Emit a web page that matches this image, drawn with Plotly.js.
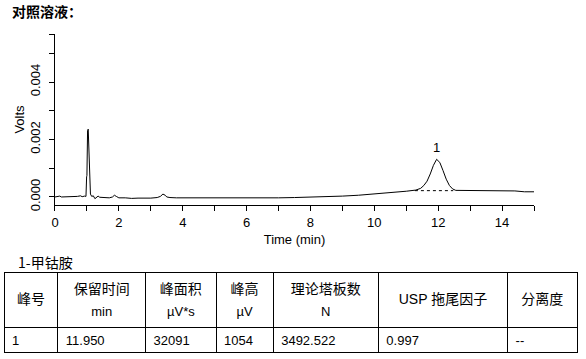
<!DOCTYPE html>
<html>
<head>
<meta charset="utf-8">
<script src="https://cdn.plot.ly/plotly-3.0.1.min.js"></script>
<style>html,body{margin:0;padding:0;background:#fff;}#chart{width:586px;height:359px;}</style>
</head>
<body>
<div id="chart"></div>
<script>
// Chromatogram trace (time in min, signal in volts)
const timeMin = [0.00,0.10,0.15,0.20,0.60,0.70,0.80,0.85,0.93,0.97,0.99,1.00,1.02,1.03,1.04,1.06,1.08,1.11,1.15,1.20,1.25,1.30,1.35,1.40,1.50,1.60,1.70,1.80,1.86,1.92,2.00,2.20,2.40,2.60,2.80,3.00,3.20,3.30,3.38,3.45,3.50,3.60,3.80,4.00,4.50,5.00,5.50,6.00,6.50,7.00,7.50,8.00,8.50,9.00,9.50,10.00,10.50,11.00,11.30,11.45,11.55,11.65,11.75,11.85,11.95,12.05,12.15,12.25,12.35,12.45,12.55,12.80,13.20,13.60,14.00,14.40,14.70,15.00];
const volts = [0.00000,0.00001,0.00003,0.00000,0.00000,0.00002,0.00004,0.00001,0.00003,0.00002,0.00070,0.00075,0.00230,0.00200,0.00236,0.00140,0.00060,0.00010,0.00002,0.00004,-0.00006,-0.00002,0.00003,-0.00001,-0.00002,-0.00003,-0.00003,0.00000,0.00006,0.00002,-0.00003,-0.00003,-0.00005,-0.00004,-0.00005,-0.00004,-0.00002,0.00002,0.00010,0.00006,0.00000,-0.00002,-0.00003,-0.00003,-0.00004,-0.00004,-0.00005,-0.00005,-0.00004,-0.00003,-0.00002,-0.00001,0.00002,0.00003,0.00006,0.00010,0.00015,0.00020,0.00024,0.00030,0.00040,0.00055,0.00080,0.00110,0.00131,0.00120,0.00092,0.00062,0.00040,0.00028,0.00023,0.00023,0.00022,0.00022,0.00023,0.00021,0.00018,0.00018];
// Integration baseline under peak 1
const baseT = [11.27, 12.47];
const baseV = [0.00022, 0.00022];
// Peak label
const peakNames = ['1'];
const peakT = [11.95];
const peakV = [0.00131];
// Axis ticks
const yTickVals = [0, 0.002, 0.004];
const yMinorVals = [0.001, 0.003, 0.005, 0.00567];

// Table
const compoundLabel = '1-甲钴胺';
const headerNames = ['峰号','保留时间','峰面积','峰高','理论塔板数','USP 拖尾因子','分离度'];
const headerUnits = ['','min','µV*s','µV','N','',''];
const peakNo = ['1'];
const retTime = ['11.950'];
const peakArea = ['32091'];
const peakHeight = ['1054'];
const plates = ['3492.522'];
const tailing = ['0.997'];
const resolution = ['--'];

const FONT = 'Liberation Sans, Arial, Noto Sans CJK SC, sans-serif';
const NAME_PX = 14, UNIT_PX = 13, HEADER_BASE = 17;
const sp = (s, px) => '<span style="font-size:' + px.toFixed(2) + 'px">' + s + '</span>';
const ctx = document.createElement('canvas').getContext('2d');
const textW = (s, px) => { ctx.font = px + 'px ' + FONT; return ctx.measureText(s).width; };
const nbspW = textW('\u00a0'.repeat(10), UNIT_PX) / 10;      // width of one no-break space at unit size
const nbspPerPx = nbspW / UNIT_PX;
const headerText = headerNames.map((n, i) => {
  const u = headerUnits[i];
  if (!u) {
    // tiny first line so the single label sits in the middle of the header cell
    return [sp('&nbsp;', 1) + '<br>' + sp(n, NAME_PX)];
  }
  // centre the unit line under the name line
  const off = Math.max(0, (textW(n, NAME_PX) - textW(u, UNIT_PX)) / 2);
  const k = Math.floor(off / nbspW);
  const rem = off - k * nbspW;
  let pad = k > 0 ? sp('&nbsp;'.repeat(k), UNIT_PX) : '';
  if (rem > 0.4) pad += sp('&nbsp;', rem / nbspPerPx);
  return [sp(n, NAME_PX) + '<br>' + pad + sp(u, UNIT_PX)];
});

const traces = [
  {type:'scatter', mode:'lines', x: timeMin, y: volts, line:{color:'#000', width:1}, hoverinfo:'skip'},
  {type:'scatter', mode:'lines', x: baseT, y: baseV, line:{color:'#000', width:1, dash:'3px,3px'}, hoverinfo:'skip'},
  {type:'table', domain:{x:[0,1], y:[0, 0.2432]},
   columnwidth:[53.7,87.6,70.4,57,105,129,69.3],
   header:{values: headerText, align:'center', height:54,
     line:{color:'#000', width:1}, fill:{color:'#fff'},
     font:{family:FONT, size:HEADER_BASE, color:'#000'}},
   cells:{values:[peakNo,retTime,peakArea,peakHeight,plates,tailing,resolution], align:'left', height:25.4,
     line:{color:'#000', width:1}, fill:{color:'#fff'},
     font:{family:FONT, size:13, color:'#000'}}
  }
];

const layout = {
  width:586, height:359,
  margin:{l:4, r:9, t:24, b:6},
  paper_bgcolor:'#fff', plot_bgcolor:'#fff',
  showlegend:false,
  font:{family:FONT, size:13, color:'#000'},
  title:{text:'<b>对照溶液：</b>', x:12/586, xref:'container', xanchor:'left', y:1-12/359, yref:'container', yanchor:'middle',
    font:{family:'Noto Sans CJK SC, sans-serif', size:14, color:'#000'}},
  xaxis:{domain:[0.0890,0.9250], range:[0,15], showline:true, linecolor:'#000', linewidth:1, mirror:false,
    showgrid:false, zeroline:false, ticks:'outside', ticklen:5, tickcolor:'#000', dtick:2, tick0:0,
    minor:{dtick:1, ticks:'outside', ticklen:5, tickcolor:'#000', showgrid:false},
    tickfont:{size:13}, title:{text:'Time (min)', font:{size:13}, standoff:6}},
  yaxis:{domain:[0.4498,0.9696], range:[-0.00028,0.00567], showline:true, linecolor:'#000', linewidth:1,
    showgrid:false, zeroline:false, ticks:'outside', ticklen:5, tickcolor:'#000',
    tickmode:'array', tickvals:yTickVals, tickformat:'.3f', tickangle:-90, ticklabelstandoff:4,
    minor:{tickmode:'array', tickvals:yMinorVals, ticks:'outside', ticklen:5, tickcolor:'#000', showgrid:false},
    tickfont:{size:13}, title:{text:'Volts', font:{size:13}, standoff:0}},
  annotations:[
    ...peakNames.map((n,i)=>({x:peakT[i], y:peakV[i], xref:'x', yref:'y', text:n, showarrow:false, yanchor:'bottom', yshift:2, font:{size:13}})),
    {x:12/586, y:1-260/359, xref:'paper', yref:'paper', text:compoundLabel, showarrow:false, xanchor:'left', yanchor:'middle',
      font:{family:'Noto Sans CJK SC, sans-serif', size:14}}
  ]
};

Plotly.newPlot('chart', traces, layout, {staticPlot:true, displayModeBar:false});
</script>
</body>
</html>
